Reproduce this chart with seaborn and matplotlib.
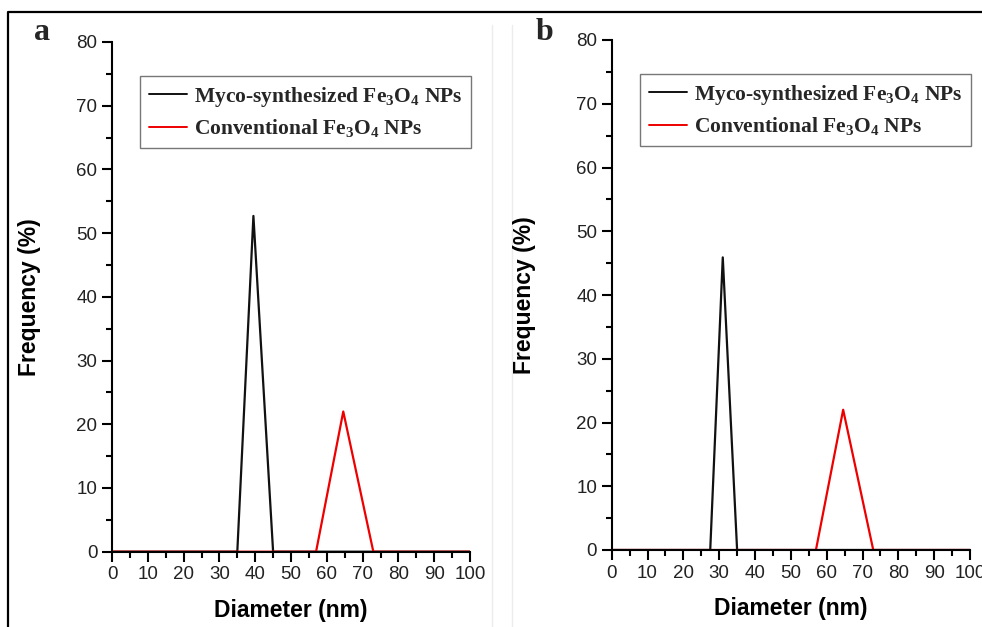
import matplotlib
matplotlib.use("Agg")
import matplotlib.pyplot as plt
import seaborn as sns
import pandas as pd
from matplotlib.lines import Line2D
from matplotlib.ticker import MultipleLocator

sns.set_theme(style="white")
plt.rcParams['font.family'] = ['Liberation Sans', 'DejaVu Sans']
plt.rcParams['mathtext.fontset'] = 'custom'
plt.rcParams['mathtext.rm'] = 'Liberation Serif:bold'
plt.rcParams['mathtext.it'] = 'Liberation Serif:bold'
plt.rcParams['mathtext.bf'] = 'Liberation Serif:bold'
plt.rcParams['mathtext.default'] = 'rm'

# ---- data ----
labels = ["Myco-synthesized Fe$_3$O$_4$ NPs", "Conventional Fe$_3$O$_4$ NPs"]
colors = ["#111111", "#ee0000"]

a_myco_x = [0, 35, 39.5, 45, 100]
a_myco_y = [0, 0, 52.7, 0, 0]
a_conv_x = [0, 57, 64.6, 73, 100]
a_conv_y = [0, 0, 22.0, 0, 0]

b_myco_x = [0, 27.5, 31, 35, 100]
b_myco_y = [0, 0, 45.9, 0, 0]
b_conv_x = [0, 57, 64.6, 73, 100]
b_conv_y = [0, 0, 22.0, 0, 0]

x_ticks = list(range(0, 101, 10))
y_ticks = list(range(0, 81, 10))
panel_letters = ["a", "b"]

fig = plt.figure(figsize=(9.82, 6.27), dpi=100)

# faint panel image edges
for xp in (492, 512):
    fig.add_artist(Line2D([xp/982, xp/982], [0, 1 - 25/627], color="#ececec", lw=1,
                          transform=fig.transFigure))
# outer frame
fig.add_artist(Line2D([8/982, 8/982, 1.0], [0, 1 - 12/627, 1 - 12/627], color="black",
                      lw=1.6, transform=fig.transFigure))

positions = [
    [112/982, 1 - 551.7/627, (470 - 112)/982, (551.7 - 42)/627],
    [611.7/982, 1 - 550/627, (970 - 611.7)/982, (550 - 40)/627],
]
series = [
    [(a_myco_x, a_myco_y), (a_conv_x, a_conv_y)],
    [(b_myco_x, b_myco_y), (b_conv_x, b_conv_y)],
]
legend_anchor = [(140/982, 1 - 76/627), (640/982, 1 - 74/627)]
letter_pos = [(34/982, 1 - 32/627), (536/982, 1 - 32/627)]
ylabel_x = [30/982, 525/982]

for i, pos in enumerate(positions):
    ax = fig.add_axes(pos)
    ax.set_facecolor("white")
    for (xs, ys), lab, col in zip(series[i], labels, colors):
        df = pd.DataFrame({"x": xs, "y": ys})
        sns.lineplot(data=df, x="x", y="y", ax=ax, color=col, lw=1.6, label=lab,
                     estimator=None, sort=False)
    ax.set_xlim(0, 100)
    ax.set_ylim(0, 80)
    ax.set_xticks(x_ticks)
    ax.set_yticks(y_ticks)
    ax.xaxis.set_minor_locator(MultipleLocator(5))
    ax.yaxis.set_minor_locator(MultipleLocator(5))
    for s in ["top", "right"]:
        ax.spines[s].set_visible(False)
    for s in ["left", "bottom"]:
        ax.spines[s].set_color("black")
        ax.spines[s].set_linewidth(1.5)
    ax.tick_params(which="major", direction="out", length=7, width=1.5, colors="black",
                   labelsize=13.5, pad=3.5, left=True, bottom=True)
    ax.tick_params(which="minor", direction="out", length=4, width=1.5, colors="black",
                   left=True, bottom=True)
    ax.tick_params(axis="y", which="major", labelcolor="#222222")
    ax.tick_params(axis="x", which="major", labelcolor="#222222")
    ax.set_xlabel("Diameter (nm)", fontsize=16.5, fontweight="bold", labelpad=11,
                  color="black")
    ax.set_ylabel("")
    fig.text(ylabel_x[i], pos[1] + pos[3] / 2, "Frequency (%)", rotation=90, fontsize=16.5,
             fontweight="bold", ha="center", va="center", color="black")
    leg = ax.legend(loc="upper left", bbox_to_anchor=legend_anchor[i],
                    bbox_transform=fig.transFigure, frameon=True, fancybox=False,
                    prop={"family": "Liberation Serif", "weight": "bold", "size": 15.5},
                    handlelength=1.8, handletextpad=0.3, borderpad=0.4, labelspacing=0.4,
                    borderaxespad=0)
    leg.get_frame().set_edgecolor("#555555")
    leg.get_frame().set_linewidth(1.0)
    for h in leg.get_lines():
        h.set_linewidth(1.4)
    fig.text(letter_pos[i][0], letter_pos[i][1], panel_letters[i], fontsize=23,
             fontweight="bold", family="Liberation Serif", ha="left", va="center")

fig.savefig("out.png", dpi=100, facecolor="white")
